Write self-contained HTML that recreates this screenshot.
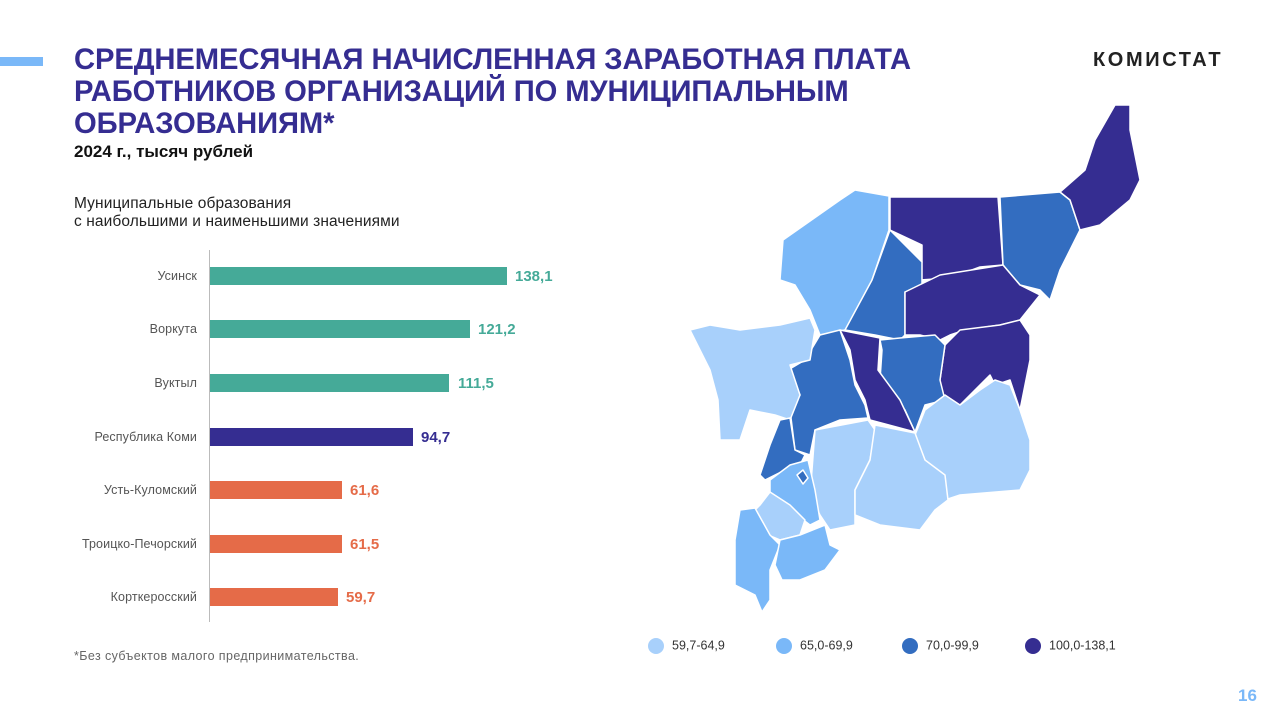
<!DOCTYPE html>
<html><head><meta charset="utf-8"><style>
body{margin:0;width:1280px;height:720px;background:#fff;font-family:"Liberation Sans",sans-serif;position:relative;overflow:hidden}
.t{position:absolute;left:74px;top:44px;font-size:29.2px;font-weight:bold;color:#352d91;line-height:32px;letter-spacing:-0.1px}
.sub{position:absolute;left:74px;top:142px;font-size:17px;font-weight:bold;color:#111}
.acc{position:absolute;left:0;top:57px;width:43px;height:9px;background:#7ab8f8}
.logo{position:absolute;left:1093px;top:49px;font-size:20px;font-weight:bold;color:#222;letter-spacing:2.6px}
.cap{position:absolute;left:74px;top:195px;font-size:15.5px;color:#222;line-height:18px;letter-spacing:0.1px}
.lab{position:absolute;right:1083px;font-size:12.5px;color:#555;text-align:right;white-space:nowrap;letter-spacing:0.1px}
.bar{position:absolute;left:210px;height:18px}
.val{position:absolute;font-size:15px;font-weight:bold}
.axis{position:absolute;left:209px;top:250px;width:1px;height:372px;background:#bbb}
.foot{position:absolute;left:74px;top:649px;font-size:12.5px;color:#666;letter-spacing:0.4px}
.pg{position:absolute;left:1238px;top:686px;font-size:17px;font-weight:bold;color:#7ab8f8}
.lg{position:absolute;top:638px;font-size:12.5px;color:#333}
.lg i{display:inline-block;width:16px;height:16px;border-radius:50%;vertical-align:middle;margin-right:8px}
</style></head><body>
<div class="acc"></div>
<div class="t">СРЕДНЕМЕСЯЧНАЯ НАЧИСЛЕННАЯ ЗАРАБОТНАЯ ПЛАТА<br>РАБОТНИКОВ ОРГАНИЗАЦИЙ ПО МУНИЦИПАЛЬНЫМ<br>ОБРАЗОВАНИЯМ*</div>
<div class="sub">2024 г., тысяч рублей</div>
<div class="logo">КОМИСТАТ</div>
<div class="cap">Муниципальные образования<br>с наибольшими и наименьшими значениями</div>
<div class="axis"></div>
<div class="lab" style="top:269px">Усинск</div><div class="bar" style="top:267px;width:297px;background:#45aa98"></div><div class="val" style="left:515px;top:268px;color:#45aa98">138,1</div>
<div class="lab" style="top:322px">Воркута</div><div class="bar" style="top:320px;width:260px;background:#45aa98"></div><div class="val" style="left:478px;top:321px;color:#45aa98">121,2</div>
<div class="lab" style="top:376px">Вуктыл</div><div class="bar" style="top:374px;width:239px;background:#45aa98"></div><div class="val" style="left:458px;top:375px;color:#45aa98">111,5</div>
<div class="lab" style="top:430px">Республика Коми</div><div class="bar" style="top:428px;width:203px;background:#352d91"></div><div class="val" style="left:421px;top:429px;color:#352d91">94,7</div>
<div class="lab" style="top:483px">Усть-Куломский</div><div class="bar" style="top:481px;width:132px;background:#e56b48"></div><div class="val" style="left:350px;top:482px;color:#e56b48">61,6</div>
<div class="lab" style="top:537px">Троицко-Печорский</div><div class="bar" style="top:535px;width:132px;background:#e56b48"></div><div class="val" style="left:350px;top:536px;color:#e56b48">61,5</div>
<div class="lab" style="top:590px">Корткеросский</div><div class="bar" style="top:588px;width:128px;background:#e56b48"></div><div class="val" style="left:346px;top:589px;color:#e56b48">59,7</div>
<div class="foot">*Без субъектов малого предпринимательства.</div>
<svg style="position:absolute;left:0;top:0" width="1280" height="720" stroke="#fff" stroke-width="1.5" stroke-linejoin="round">
<polygon fill="#7ab8f8" points="855,190 889,196 889,230 872,280 873,315 845,330 820,335 810,310 795,285 780,280 783,240 840,200"/>
<polygon fill="#352d91" points="890,197 998,197 1003,265 980,267 950,278 920,280 905,290 922,262 922,245 890,230"/>
<polygon fill="#336dc0" points="1000,197 1060,192 1070,200 1080,230 1060,270 1050,300 1040,290 1020,285 1003,265"/>
<polygon fill="#352d91" points="1060,192 1085,170 1095,140 1115,105 1130,105 1130,130 1140,180 1130,200 1100,225 1080,230 1070,200"/>
<polygon fill="#336dc0" points="890,230 922,262 922,290 905,292 905,335 900,340 875,335 845,330 872,280"/>
<polygon fill="#352d91" points="905,292 940,275 1003,265 1020,285 1040,295 1020,320 1000,325 965,330 950,335 940,340 920,335 905,335"/>
<polygon fill="#352d91" points="960,330 1000,325 1020,320 1030,335 1030,360 1020,410 1010,380 995,385 990,375 960,405 935,400 940,380 945,345"/>
<polygon fill="#336dc0" points="880,340 900,338 935,335 945,345 940,380 945,400 925,405 915,432 905,410 880,380 882,350"/>
<polygon fill="#352d91" points="840,330 880,338 878,370 900,400 915,432 870,420 865,400 855,380 850,350"/>
<polygon fill="#336dc0" points="820,335 840,330 850,360 855,385 865,405 868,418 840,420 815,430 810,455 795,450 790,410 800,395 788,370 805,360"/>
<polygon fill="#a8d0fb" points="690,330 710,325 740,330 780,325 810,318 815,330 810,360 790,365 800,395 790,420 775,415 750,410 740,440 720,440 718,400 710,370"/>
<polygon fill="#a8d0fb" points="945,395 960,405 980,390 995,380 1010,385 1020,410 1030,440 1030,470 1020,490 960,495 945,500 935,470 925,460 915,435 925,410"/>
<polygon fill="#a8d0fb" points="815,430 868,420 875,430 870,460 855,490 855,525 830,530 820,515 810,495 812,470"/>
<polygon fill="#a8d0fb" points="875,425 915,433 925,460 945,475 948,500 935,510 920,530 880,525 855,515 855,490 870,460"/>
<polygon fill="#336dc0" points="780,420 790,418 795,450 805,455 800,465 785,470 765,480 760,475 770,445"/>
<polygon fill="#7ab8f8" points="770,480 790,465 808,460 815,490 820,520 810,525 790,510 770,495"/>
<polygon fill="#336dc0" points="797,475 803,470 808,478 803,484"/>
<polygon fill="#a8d0fb" points="760,505 770,492 790,505 805,520 800,535 780,540 768,535 755,510"/>
<polygon fill="#7ab8f8" points="740,510 755,508 770,535 780,545 770,570 770,600 762,612 755,595 735,585 735,540"/>
<polygon fill="#7ab8f8" points="780,540 800,535 825,525 830,545 840,550 825,570 800,580 782,580 775,565"/>
</svg>
<div class="lg" style="left:648px"><i style="background:#a8d0fb"></i>59,7-64,9</div>
<div class="lg" style="left:776px"><i style="background:#7ab8f8"></i>65,0-69,9</div>
<div class="lg" style="left:902px"><i style="background:#336dc0"></i>70,0-99,9</div>
<div class="lg" style="left:1025px"><i style="background:#352d91"></i>100,0-138,1</div>
<div class="pg">16</div>
</body></html>
